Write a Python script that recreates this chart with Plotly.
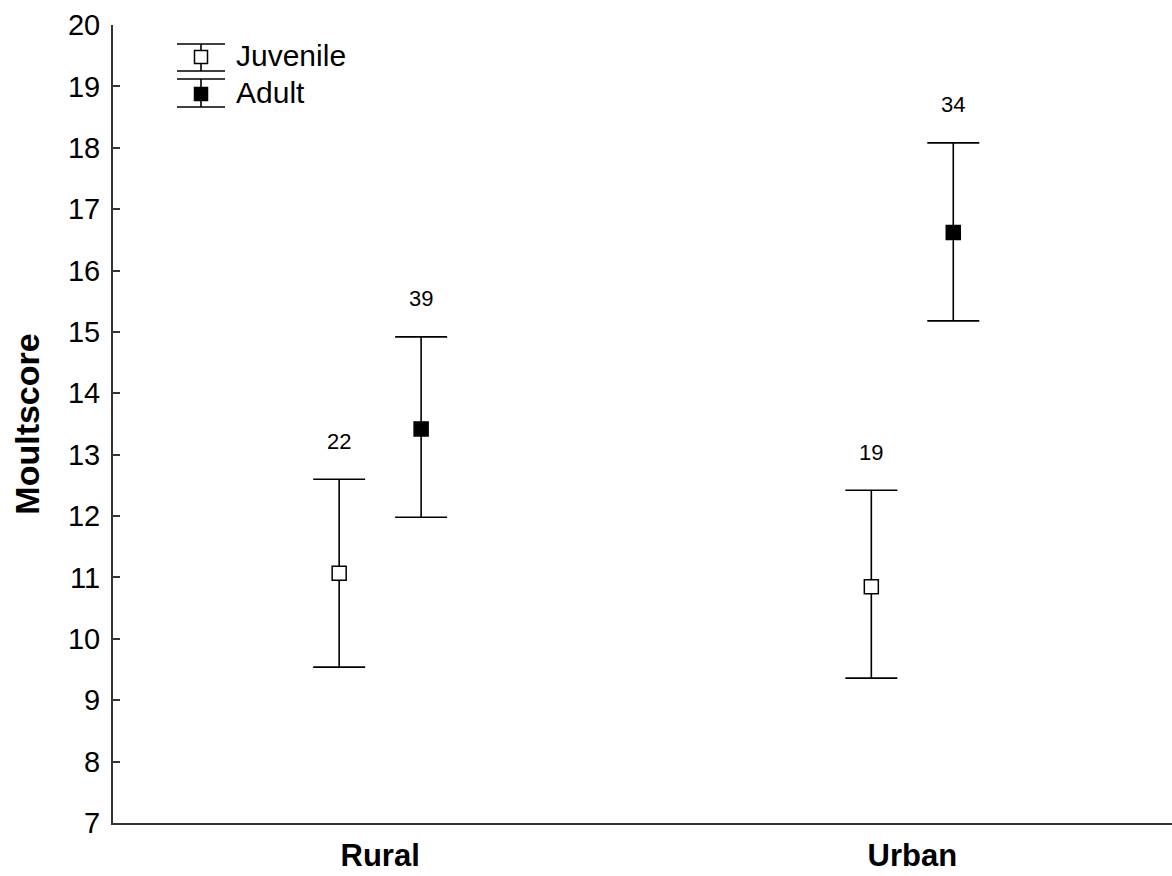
import plotly.graph_objects as go

# Group means with 95% CI bounds and sample sizes
habitats = ["Rural", "Urban"]
juv_mean = [11.07, 10.85]
juv_low = [9.54, 9.36]
juv_high = [12.60, 12.42]
juv_n = [22, 19]

adu_mean = [13.42, 16.62]
adu_low = [11.98, 15.18]
adu_high = [14.92, 18.08]
adu_n = [39, 34]

yticks = list(range(7, 21))

OFFSET = 0.077
W, H = 1172, 876
ML, MR, MT, MB = 113, 0, 25, 53
PW, PH = W - ML - MR, H - MT - MB
FONT = "Liberation Sans, Arial, sans-serif"


def series(mean, low, high, offset, fill, name):
    xs = [i + offset for i in range(len(mean))]
    return go.Scatter(
        x=xs, y=mean, mode="markers", name=name, showlegend=False,
        marker=dict(symbol="square", size=14, color=fill,
                    line=dict(color="black", width=1.5)),
        error_y=dict(type="data", symmetric=False,
                     array=[h - m for h, m in zip(high, mean)],
                     arrayminus=[m - l for m, l in zip(mean, low)],
                     color="black", thickness=1.6, width=26),
    )


fig = go.Figure()
fig.add_trace(series(juv_mean, juv_low, juv_high, -OFFSET, "white", "Juvenile"))
fig.add_trace(series(adu_mean, adu_low, adu_high, OFFSET, "black", "Adult"))

# sample sizes above the upper bound of each interval
for i in range(len(habitats)):
    for off, hi, n in ((-OFFSET, juv_high[i], juv_n[i]), (OFFSET, adu_high[i], adu_n[i])):
        fig.add_annotation(x=i + off, y=hi, text=str(n), showarrow=False,
                           yshift=38, font=dict(size=22, color="black", family=FONT))


# legend drawn by hand with error-bar glyphs
def px(x):
    return (x - ML) / PW


def py(y):
    return 1 - (y - MT) / PH


def legend_item(cy, top, bot, fill, label):
    cx = 201
    fig.add_shape(type="line", xref="paper", yref="paper", x0=px(cx), x1=px(cx),
                  y0=py(top), y1=py(bot), line=dict(color="black", width=1.6))
    for yy in (top, bot):
        fig.add_shape(type="line", xref="paper", yref="paper", x0=px(177), x1=px(225),
                      y0=py(yy), y1=py(yy), line=dict(color="black", width=1.6))
    fig.add_shape(type="rect", xref="paper", yref="paper", x0=px(cx - 6.5), x1=px(cx + 6.5),
                  y0=py(cy - 6.5), y1=py(cy + 6.5), fillcolor=fill,
                  line=dict(color="black", width=1.5))
    fig.add_annotation(xref="paper", yref="paper", x=px(234), y=py(cy - 2), text=label,
                       showarrow=False, xanchor="left", yanchor="middle",
                       font=dict(size=30, color="black", family=FONT))


legend_item(57, 44, 71, "white", "Juvenile")
legend_item(94, 79, 107, "black", "Adult")

fig.update_layout(
    width=W, height=H,
    margin=dict(l=ML, r=MR, t=MT, b=MB),
    paper_bgcolor="white", plot_bgcolor="white",
    font=dict(family=FONT, color="black"),
    xaxis=dict(range=[-0.502, 1.488], tickvals=[0, 1],
               ticktext=[f"<b>{h}</b>" for h in habitats],
               tickfont=dict(size=31), showgrid=False, zeroline=False,
               showline=True, linecolor="#333", linewidth=2, ticks="", ticklabelstandoff=4),
    yaxis=dict(range=[7, 20], tickvals=yticks, showgrid=False, zeroline=False,
               showline=True, linecolor="#333", linewidth=2,
               ticks="inside", ticklen=7, tickcolor="#333", tickwidth=1.5,
               tickfont=dict(size=29), ticklabelstandoff=5,
               title=dict(text="<b>Moultscore</b>", font=dict(size=34), standoff=18)),
)

fig.write_html("out.html")
